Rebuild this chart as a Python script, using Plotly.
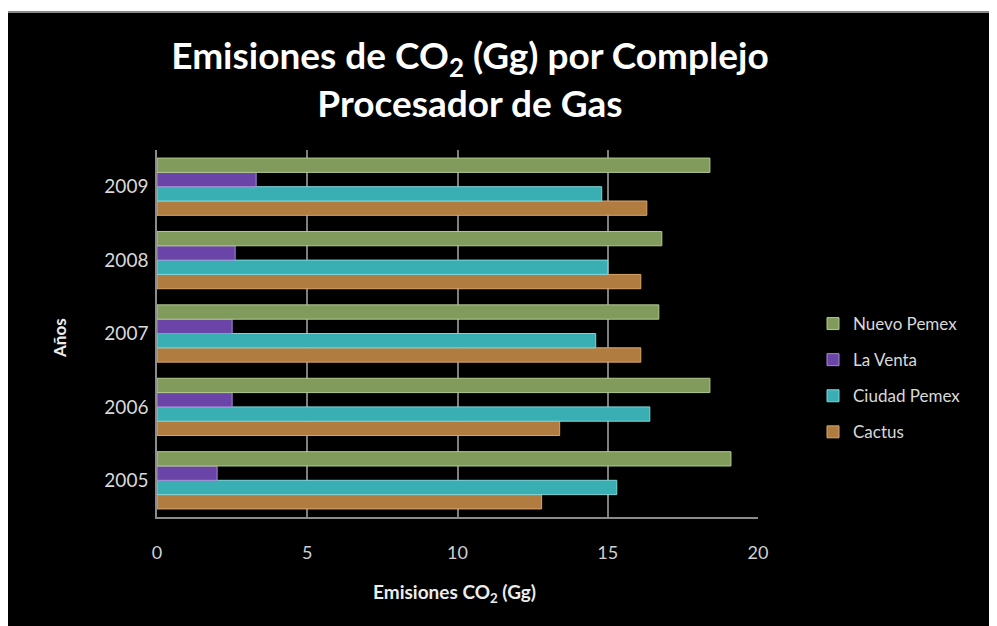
import plotly.graph_objects as go

years = ["2005", "2006", "2007", "2008", "2009"]
nuevo_pemex = [19.1, 18.4, 16.7, 16.8, 18.4]
la_venta = [2.0, 2.5, 2.5, 2.6, 3.3]
ciudad_pemex = [15.3, 16.4, 14.6, 15.0, 14.8]
cactus = [12.8, 13.4, 16.1, 16.1, 16.3]

series = [
    ("Cactus", cactus, "#b07c40", "#d9a56b", 4),
    ("Ciudad Pemex", ciudad_pemex, "#3aafb3", "#7fd6da", 3),
    ("La Venta", la_venta, "#6a44a6", "#a58ad6", 2),
    ("Nuevo Pemex", nuevo_pemex, "#809b5b", "#b3c98f", 1),
]

# page has an 8px body margin, so figure coords = page coords - 8
OFF = 8
W, H = 997 - OFF, 626 - OFF
L, T = 157 - OFF, 150 - OFF
PW, PH = 601, 367
R = W - L - PW
B = H - T - PH


def px(x):
    return (x - OFF - L) / PW


def py(y):
    return (T + PH - (y - OFF)) / PH


fig = go.Figure()
for name, vals, col, edge, rank in series:
    fig.add_trace(go.Bar(
        y=years, x=vals, name=name, orientation="h",
        marker=dict(color=col, line=dict(color=edge, width=1)),
        legendgroup=name, legendrank=rank,
    ))

font_family = "Lato, 'Open Sans', sans-serif"

fig.update_layout(
    width=W, height=H,
    margin=dict(l=L, r=R, t=T, b=B, pad=0),
    paper_bgcolor="white",
    plot_bgcolor="rgba(0,0,0,0)",
    barmode="group",
    bargap=0.22,
    bargroupgap=0.0,
    showlegend=True,
    title=dict(
        text="<b>Emisiones de CO<sub>2</sub> (Gg) por Complejo<br>Procesador de Gas</b>",
        x=(470 - OFF) / W, xanchor="center",
        y=1 - (69 - OFF) / H, yanchor="middle",
        font=dict(family=font_family, size=37, color="white"),
    ),
    legend=dict(
        x=px(813), xanchor="left",
        y=py(306), yanchor="top",
        traceorder="grouped",
        tracegroupgap=11,
        font=dict(family=font_family, size=17, color="#d9d9d9"),
        bgcolor="rgba(0,0,0,0)",
        itemclick=False,
    ),
    xaxis=dict(
        range=[0, 20],
        tickvals=[0, 5, 10, 15, 20],
        ticktext=["0", "5", "10", "15", "20"],
        showgrid=True, gridcolor="#7f7f7f", gridwidth=1.5,
        zeroline=False,
        showline=True, linecolor="#8c8c8c", linewidth=1.5,
        ticks="", ticklabelstandoff=19,
        tickfont=dict(family=font_family, size=18, color="#d0d0d0"),
    ),
    yaxis=dict(
        showgrid=False, zeroline=False,
        showline=True, linecolor="#8c8c8c", linewidth=1.5,
        ticks="", ticklabelstandoff=3,
        tickfont=dict(family=font_family, size=19, color="#d9d9d9"),
        categoryorder="array", categoryarray=years,
    ),
    shapes=[
        dict(type="rect", xref="paper", yref="paper",
             x0=px(7), x1=px(997 + 5), y0=py(626 + 5), y1=py(12),
             fillcolor="black", line=dict(color="#8a8a8a", width=2),
             layer="below"),
    ],
    annotations=[
        dict(text="<b>Emisiones CO<sub>2</sub> (Gg)</b>", xref="paper", yref="paper",
             x=px(454), y=py(593), xanchor="center", yanchor="middle",
             showarrow=False, font=dict(family=font_family, size=19, color="#ececec")),
        dict(text="<b>Años</b>", xref="paper", yref="paper",
             x=px(59), y=py(338), xanchor="center", yanchor="middle",
             textangle=-90, showarrow=False,
             font=dict(family=font_family, size=17, color="#ececec")),
    ],
)

fig.write_html("out.html")
